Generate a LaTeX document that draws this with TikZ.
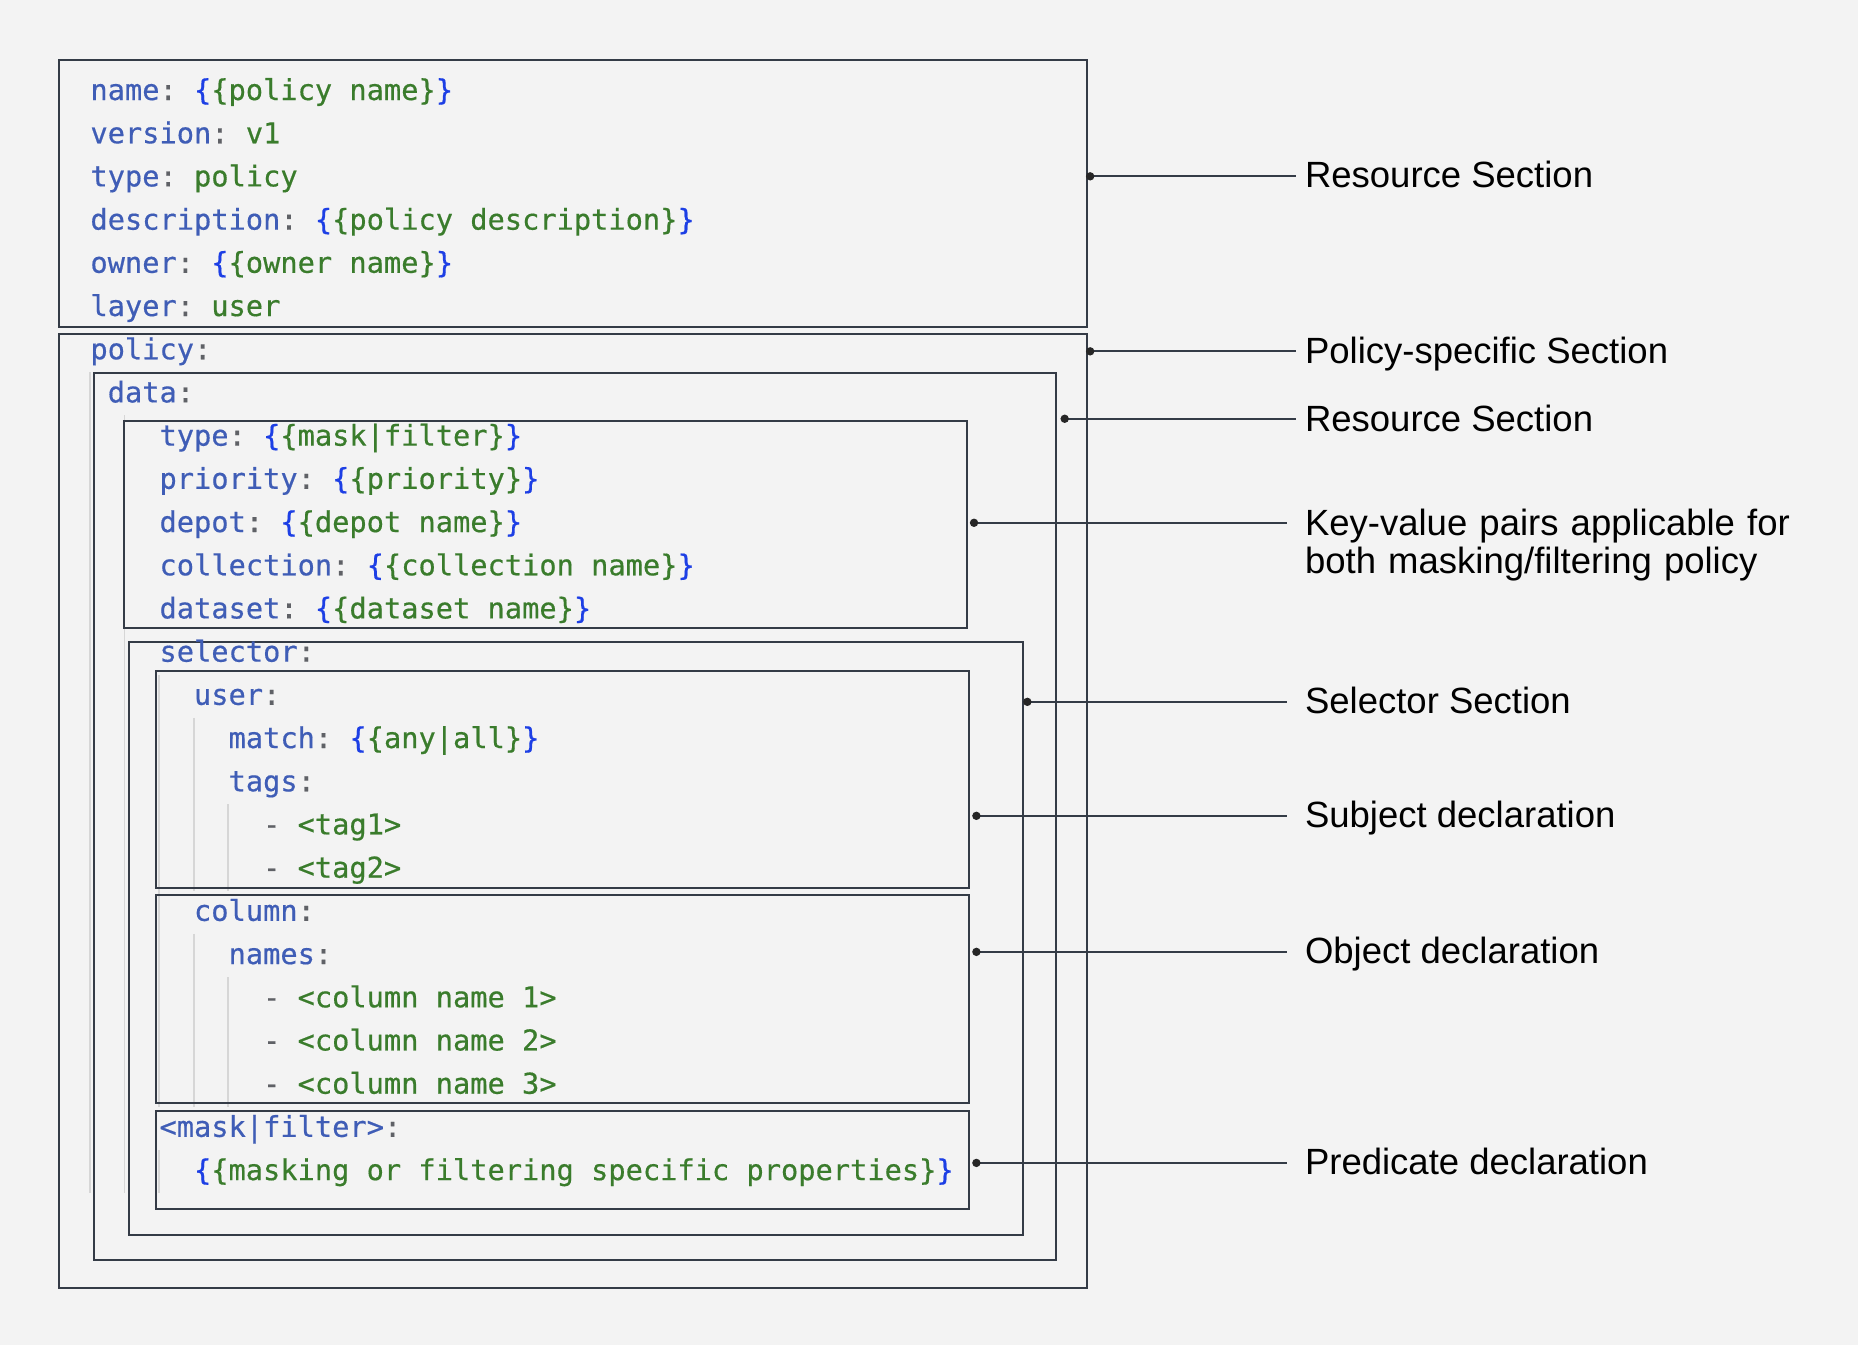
\documentclass[tikz,border=0pt]{standalone}
\usepackage{fontspec}
\usepackage{xcolor}
\usetikzlibrary{calc}

\newfontfamily\codefont[FakeBold=0.5]{DejaVu Sans Mono}
\newfontfamily\lblfont{Liberation Sans}

\definecolor{bggray}{HTML}{F3F3F3}
\definecolor{keyblue}{HTML}{3F5DB6}
\definecolor{valgreen}{HTML}{3A7C2C}
\definecolor{braceblue}{HTML}{1D3FE5}
\definecolor{colongray}{HTML}{5F6166}
\definecolor{framegray}{HTML}{343B46}
\definecolor{guidegray}{HTML}{D6D6D6}

\newcommand{\ykey}[1]{\textcolor{keyblue}{#1}\textcolor{colongray}{:}}
\newcommand{\yval}[1]{\textcolor{valgreen}{#1}}
\newcommand{\tmpl}[1]{\textcolor{braceblue}{\{}\yval{\{#1\}}\textcolor{braceblue}{\}}}
\newcommand{\ydash}{\textcolor{colongray}{-}}

\tikzset{
  code/.style={anchor=base west, inner sep=0pt, font=\codefont\fontsize{14.34}{17}\selectfont},
  frame/.style={draw=framegray, line width=1pt},
  guide/.style={draw=guidegray, line width=0.9pt},
  lead/.style={draw=framegray, line width=1pt},
  sect/.style={anchor=base west, inner sep=0pt, text=black, font=\lblfont\fontsize{18.25}{19}\selectfont},
}

\frenchspacing

\begin{document}
\begin{tikzpicture}[x=0.5925pt, y=-0.5925pt]
        \fill[bggray] (0,0) rectangle (1568,1135);

        % indent guides
        \draw[guide] (76,314) -- (76,1007);
        \draw[guide] (105.1,350.6) -- (105.1,1007);
        \draw[guide] (134.3,569.4) -- (134.3,934);
        \draw[guide] (134.3,970.4) -- (134.3,1007);
        \draw[guide] (163.4,605.8) -- (163.4,751.7);
        \draw[guide] (192.6,678.8) -- (192.6,751.7);
        \draw[guide] (163.4,788.1) -- (163.4,934);
        \draw[guide] (192.6,824.6) -- (192.6,934);

        % section frames
        \draw[frame] (50,51) rectangle (917,276);
        \draw[frame] (50,282) rectangle (917,1087);
        \draw[frame] (79,315) rectangle (891,1063);
        \draw[frame] (105,355) rectangle (816,530);
        \draw[frame] (109,542) rectangle (863,1042);
        \draw[frame] (132,566) rectangle (818,749);
        \draw[frame] (132,755) rectangle (818,931);
        \draw[frame] (132,938) rectangle (818,1020);

        % yaml lines
        \node[code] (name) at (76,84.4) {\ykey{name} \tmpl{policy name}};
        \node[code] (version) at (76,120.9) {\ykey{version} \yval{v1}};
        \node[code] (rtype) at (76,157.3) {\ykey{type} \yval{policy}};
        \node[code] (desc) at (76,193.8) {\ykey{description} \tmpl{policy description}};
        \node[code] (owner) at (76,230.2) {\ykey{owner} \tmpl{owner name}};
        \node[code] (layer) at (76,266.7) {\ykey{layer} \yval{user}};
        \node[code] (policy) at (76,303.2) {\ykey{policy}};
        \node[code] (data) at (90.6,339.6) {\ykey{data}};
        \node[code] (dtype) at (134.3,376.1) {\ykey{type} \tmpl{mask|filter}};
        \node[code] (priority) at (134.3,412.5) {\ykey{priority} \tmpl{priority}};
        \node[code] (depot) at (134.3,449.0) {\ykey{depot} \tmpl{depot name}};
        \node[code] (collection) at (134.3,485.5) {\ykey{collection} \tmpl{collection name}};
        \node[code] (dataset) at (134.3,521.9) {\ykey{dataset} \tmpl{dataset name}};
        \node[code] (selector) at (134.3,558.4) {\ykey{selector}};
        \node[code] (user) at (163.4,594.8) {\ykey{user}};
        \node[code] (match) at (192.6,631.3) {\ykey{match} \tmpl{any|all}};
        \node[code] (tags) at (192.6,667.8) {\ykey{tags}};
        \node[code] (tag1) at (221.7,704.2) {\ydash{} \yval{<tag1>}};
        \node[code] (tag2) at (221.7,740.7) {\ydash{} \yval{<tag2>}};
        \node[code] (column) at (163.4,777.1) {\ykey{column}};
        \node[code] (names) at (192.6,813.6) {\ykey{names}};
        \node[code] (col1) at (221.7,850.1) {\ydash{} \yval{<column name 1>}};
        \node[code] (col2) at (221.7,886.5) {\ydash{} \yval{<column name 2>}};
        \node[code] (col3) at (221.7,923.0) {\ydash{} \yval{<column name 3>}};
        \node[code] (maskfilter) at (134.3,959.4) {\ykey{<mask|filter>}};
        \node[code] (props) at (163.4,995.9) {\tmpl{masking or filtering specific properties}};

        % section labels
        \node[sect] (res1) at (1101,158.3) {Resource Section};
        \node[sect] (polsec) at (1101,307) {Policy-specific Section};
        \node[sect] (res2) at (1101,363.9) {Resource Section};
        \node[sect, text width=260pt, align=left] (kvpairs) at (1101,451.7) {Key-value pairs applicable for\\both masking/filtering policy};
        \node[sect] (selsec) at (1101,602.3) {Selector Section};
        \node[sect] (subj) at (1101,698.5) {Subject declaration};
        \node[sect] (obj) at (1101,813.3) {Object declaration};
        \node[sect] (pred) at (1101,991.4) {Predicate declaration};

        % leader dots
        \coordinate (p1) at (920,148.8);
        \coordinate (p2) at (920,296.5);
        \coordinate (p3) at (898.5,353.4);
        \coordinate (p4) at (822,441.2);
        \coordinate (p5) at (867,592.3);
        \coordinate (p6) at (824,688.5);
        \coordinate (p7) at (824,803.3);
        \coordinate (p8) at (824,981.4);

        \draw[lead] (p1) -- ($(p1 -| res1.west)+(-7,0)$);
        \draw[lead] (p2) -- ($(p2 -| polsec.west)+(-7,0)$);
        \draw[lead] (p3) -- ($(p3 -| res2.west)+(-7,0)$);
        \draw[lead] (p4) -- ($(p4 -| kvpairs.west)+(-15,0)$);
        \draw[lead] (p5) -- ($(p5 -| selsec.west)+(-15,0)$);
        \draw[lead] (p6) -- ($(p6 -| subj.west)+(-15,0)$);
        \draw[lead] (p7) -- ($(p7 -| obj.west)+(-15,0)$);
        \draw[lead] (p8) -- ($(p8 -| pred.west)+(-15,0)$);

        \foreach \p in {p1,p2,p3,p4,p5,p6,p7,p8}
            \fill[black!85] (\p) circle (2.1pt);
\end{tikzpicture}
\end{document}
